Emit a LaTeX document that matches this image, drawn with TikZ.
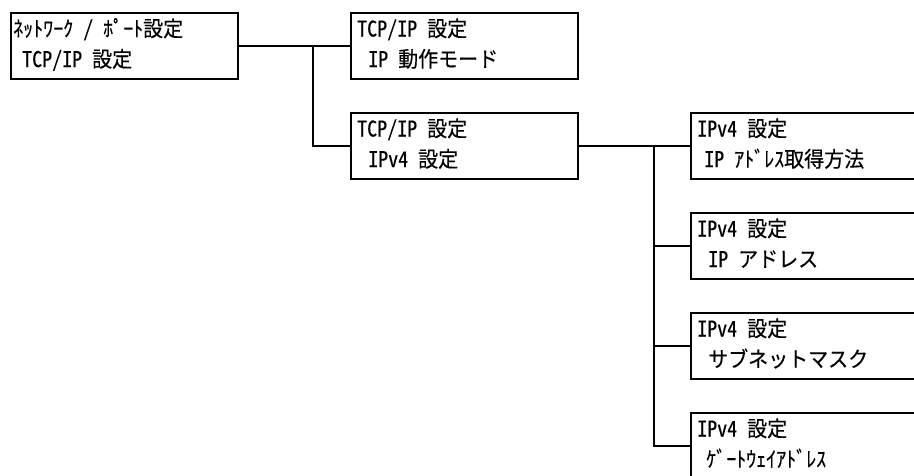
\documentclass[tikz,border=0pt]{standalone}
\usepackage{fontspec}
\setmainfont{Noto Sans CJK JP}[RawFeature={+hwid},FakeBold=0.3]
\usetikzlibrary{calc}
\newcommand{\tallt}[1]{\scalebox{1}[1.08]{#1}}
\begin{document}
\begin{tikzpicture}[x=1pt,y=-1pt,
  box/.style={draw,line width=2pt,minimum width=227pt,minimum height=66pt,inner sep=0pt,outer sep=0pt,anchor=north west},
  lbl/.style={inner sep=0pt,anchor=base west,font=\fontsize{20pt}{20pt}\selectfont},
  conn/.style={line width=2pt}]
\useasboundingbox (0,0) rectangle (914,475);
\clip (0,0) rectangle (914,475);
% boxes
\node[box] (b1) at (11,12.5) {};
\node[box] (b2) at (351,12.5) {};
\node[box] (b3) at (351,112.5) {};
\node[box] (b4) at (691,112.5) {};
\node[box] (b5) at (691,212.5) {};
\node[box] (b6) at (691,312.5) {};
\node[box] (b7) at (691,412.5) {};
% labels
\node[lbl] (t1a) at ($(b1.north west)+(2,24)$) {\tallt{ﾈｯﾄﾜｰｸ / ﾎﾟｰﾄ設定}};
\node[lbl] (t1b) at ($(b1.north west)+(11,54.5)$) {\tallt{TCP/IP 設定}};
\node[lbl] (t2a) at ($(b2.north west)+(6,24)$) {\tallt{TCP/IP 設定}};
\node[lbl] (t2b) at ($(b2.north west)+(17,54.5)$) {\tallt{IP 動作モード}};
\node[lbl] (t3a) at ($(b3.north west)+(6,24)$) {\tallt{TCP/IP 設定}};
\node[lbl] (t3b) at ($(b3.north west)+(17,54.5)$) {\tallt{IPv4 設定}};
\node[lbl] (t4a) at ($(b4.north west)+(6,24)$) {\tallt{IPv4 設定}};
\node[lbl] (t4b) at ($(b4.north west)+(13,54.5)$) {\tallt{IP ｱﾄﾞﾚｽ取得方法}};
\node[lbl] (t5a) at ($(b5.north west)+(6,24)$) {\tallt{IPv4 設定}};
\node[lbl] (t5b) at ($(b5.north west)+(17,54.5)$) {\tallt{IP アドレス}};
\node[lbl] (t6a) at ($(b6.north west)+(6,24)$) {\tallt{IPv4 設定}};
\node[lbl] (t6b) at ($(b6.north west)+(17,54.5)$) {\tallt{サブネットマスク}};
\node[lbl] (t7a) at ($(b7.north west)+(6,24)$) {\tallt{IPv4 設定}};
\node[lbl] (t7b) at ($(b7.north west)+(15,54.5)$) {\tallt{ｹﾞｰﾄｳｪｲｱﾄﾞﾚｽ}};
% junctions
\coordinate (j1) at (313,0);
\coordinate (j2) at (654,0);
% connectors
\draw[conn] (b1.east) -- (b2.west);
\draw[conn] (b1.east -| j1) |- (b3.west);
\draw[conn] (b3.east) -- (b4.west);
\draw[conn] (b4.west -| j2) |- (b7.west);
\draw[conn] (b5.west -| j2) -- (b5.west);
\draw[conn] (b6.west -| j2) -- (b6.west);
\end{tikzpicture}
\end{document}
